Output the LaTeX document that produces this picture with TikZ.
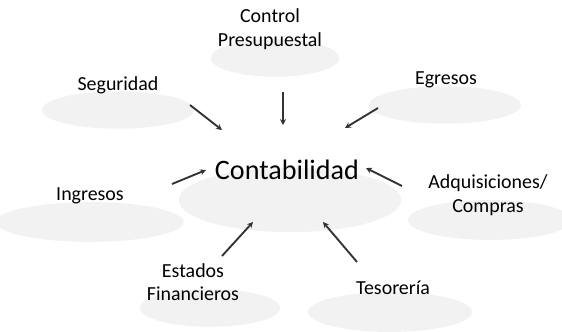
\documentclass[tikz,border=0pt]{standalone}
\usepackage{fontspec}
\setmainfont{Carlito}
\usepackage{tikz}
\usetikzlibrary{positioning,arrows.meta,shapes.geometric}
\pgfdeclarelayer{background}
\pgfsetlayers{background,main}
\tikzset{
  modulo/.style={font=\fontsize{17}{20}\selectfont, align=center, inner sep=1pt},
  sombra/.style={ellipse, fill=black!5, draw=none},
  flecha/.style={black!80, line width=1.6pt, -{Stealth[length=5pt,width=5pt]}}
}
\begin{document}
\begin{tikzpicture}[x=0.03cm,y=-0.03cm]
\useasboundingbox (0,0) rectangle (562,331);
% modulos
\node[font=\fontsize{24}{24}\selectfont, inner sep=1pt] (conta) at (287,170) {Contabilidad};
\node[modulo] (control) at (270,29) {Control\\Presupuestal};
\node[modulo] (seguridad) at (118,85) {Seguridad};
\node[modulo] (egresos) at (446,80) {Egresos};
\node[modulo] (ingresos) at (90,196) {Ingresos};
\node[modulo, font=\fontsize{17}{21}\selectfont] (adquis) at (488,195) {Adquisiciones/\\Compras};
\node[modulo] (tesoreria) at (393,288) {Tesorería};
\node[modulo] (estados) at (193,282) {Estados\\Financieros};
% extremos de las flechas
\coordinate (segA) at (190,105);
\coordinate (segB) at (222,130);
\coordinate (conA) at (283,92);
\coordinate (conB) at (283,125);
\coordinate (egrA) at (378,108);
\coordinate (egrB) at (345,128);
\coordinate (ingA) at (172,184);
\coordinate (ingB) at (206,170);
\coordinate (adqA) at (402,186);
\coordinate (adqB) at (366,168);
\coordinate (estA) at (222,256);
\coordinate (estB) at (253,222);
\coordinate (tesA) at (357,262);
\coordinate (tesB) at (323,222);
\draw[flecha] (segA) -- (segB);
\draw[flecha] (conA) -- (conB);
\draw[flecha] (egrA) -- (egrB);
\draw[flecha] (ingA) -- (ingB);
\draw[flecha] (adqA) -- (adqB);
\draw[flecha] (estA) -- (estB);
\draw[flecha] (tesA) -- (tesB);
  \begin{pgfonlayer}{background}
    \node[sombra, minimum width=190, minimum height=55] at (290,200) {};
    \node[sombra, minimum width=110, minimum height=32] at (275,58) {};
    \node[sombra, minimum width=130, minimum height=32] at (118,110) {};
    \node[sombra, minimum width=130, minimum height=32] at (445,105) {};
    \node[sombra, minimum width=160, minimum height=34] at (90,222) {};
    \node[sombra, minimum width=140, minimum height=34] at (490,220) {};
    \node[sombra, minimum width=140, minimum height=34] at (390,312) {};
    \node[sombra, minimum width=120, minimum height=32] at (210,308) {};
  \end{pgfonlayer}
\end{tikzpicture}
\end{document}
